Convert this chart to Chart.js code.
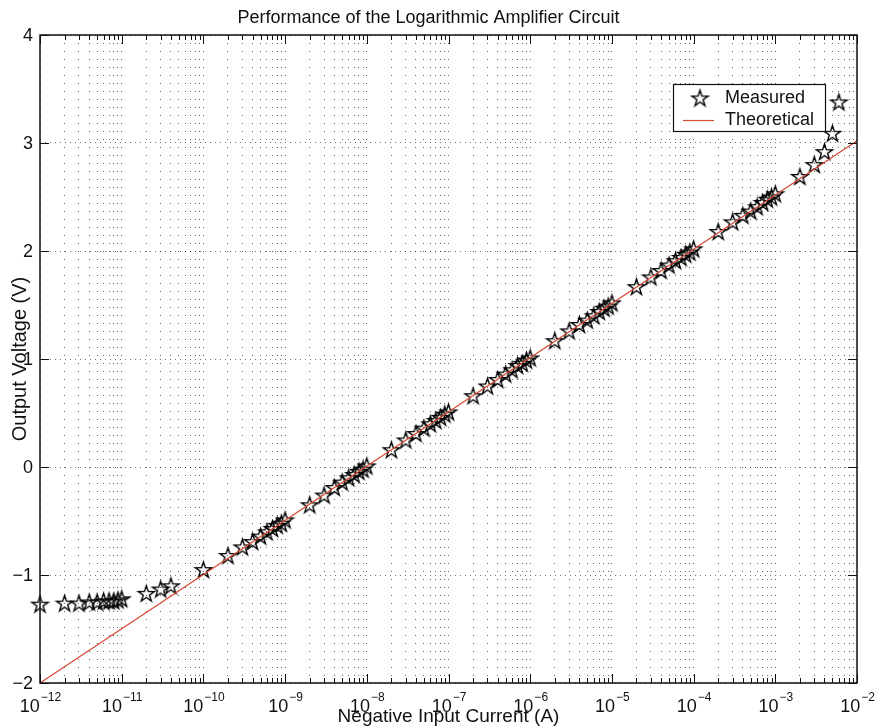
<!DOCTYPE html>
<html><head><meta charset="utf-8">
<script src="https://cdn.jsdelivr.net/npm/chart.js@4/dist/chart.umd.min.js"></script>
<style>html,body{margin:0;padding:0;background:#fff}</style>
</head><body>
<canvas id="c" width="875" height="728" style="display:block;width:875px;height:728px"></canvas>
<script>
// ---------- data ----------
const chartTitle = 'Performance of the Logarithmic Amplifier Circuit';
const xAxisTitle = 'Negative Input Current (A)';
const yAxisTitle = 'Output Voltage (V)';
const legendLabels = ['Measured', 'Theoretical'];

const measuredCurrent = [
  1e-12, 2e-12, 3e-12, 4e-12, 5e-12, 6e-12, 7e-12, 8e-12, 9e-12, 1e-11,
  2e-11, 3e-11, 4e-11,
  1e-10, 2e-10, 3e-10, 4e-10, 5e-10, 6e-10, 7e-10, 8e-10, 9e-10,
  1e-9, 2e-9, 3e-9, 4e-9, 5e-9, 6e-9, 7e-9, 8e-9, 9e-9,
  1e-8, 2e-8, 3e-8, 4e-8, 5e-8, 6e-8, 7e-8, 8e-8, 9e-8,
  1e-7, 2e-7, 3e-7, 4e-7, 5e-7, 6e-7, 7e-7, 8e-7, 9e-7,
  1e-6, 2e-6, 3e-6, 4e-6, 5e-6, 6e-6, 7e-6, 8e-6, 9e-6,
  1e-5, 2e-5, 3e-5, 4e-5, 5e-5, 6e-5, 7e-5, 8e-5, 9e-5,
  1e-4, 2e-4, 3e-4, 4e-4, 5e-4, 6e-4, 7e-4, 8e-4, 9e-4,
  1e-3, 2e-3, 3e-3, 4e-3, 5e-3, 6e-3
];
const measuredVoltage = [
  -1.27, -1.26, -1.26, -1.25, -1.25, -1.24, -1.24, -1.24, -1.23, -1.22,
  -1.17, -1.13, -1.10,
  -0.95, -0.82, -0.74, -0.69, -0.64, -0.60, -0.57, -0.54, -0.52,
  -0.49, -0.35, -0.26, -0.19, -0.14, -0.10, -0.07, -0.04, -0.02,
  0.01, 0.16, 0.25, 0.31, 0.36, 0.40, 0.43, 0.46, 0.49,
  0.51, 0.66, 0.75, 0.81, 0.86, 0.90, 0.94, 0.96, 0.99,
  1.01, 1.17, 1.26, 1.32, 1.36, 1.40, 1.44, 1.47, 1.49,
  1.52, 1.67, 1.76, 1.82, 1.87, 1.91, 1.94, 1.97, 1.99,
  2.02, 2.18, 2.27, 2.33, 2.37, 2.41, 2.45, 2.48, 2.50,
  2.53, 2.69, 2.80, 2.92, 3.09, 3.38
];
const theoreticalCurrent = [1e-12, 1e-2];
const theoreticalVoltage = [-2.0, 3.02];

const xTickExponents = [-12, -11, -10, -9, -8, -7, -6, -5, -4, -3, -2];
const yTickValues = [-2, -1, 0, 1, 2, 3, 4];
const yTickLabels = ['\u22122', '\u22121', '0', '1', '2', '3', '4'];

// ---------- helpers ----------
const FONT = 'Liberation Sans, Arial, Helvetica, sans-serif';
const minorMantissas = [1, 2, 3, 4, 5, 6, 7, 8, 9];
const xGridValues = [];
xTickExponents.forEach((e, i) => {
  if (i === xTickExponents.length - 1) { xGridValues.push(Math.pow(10, e)); return; }
  minorMantissas.forEach(m => xGridValues.push(m * Math.pow(10, e)));
});

function makeStar(R, lw) {
  const s = Math.ceil(2 * R + 4);
  const c = document.createElement('canvas');
  c.width = s; c.height = s;
  const g = c.getContext('2d');
  const cx = s / 2, cy = s / 2 + R * 0.09;
  g.beginPath();
  for (let i = 0; i < 10; i++) {
    const r = i % 2 ? R * 0.382 : R;
    const a = -Math.PI / 2 + i * Math.PI / 5;
    g.lineTo(cx + r * Math.cos(a), cy + r * Math.sin(a));
  }
  g.closePath();
  g.lineWidth = lw; g.strokeStyle = '#000'; g.lineJoin = 'miter';
  g.stroke();
  return c;
}
const starImg = makeStar(8.5, 1.4);
const LINE_RED = 'rgb(214,72,52)';

const overlay = {
  id: 'overlay',
  afterDraw(chart) {
    const ctx = chart.ctx;
    const a = chart.chartArea;
    const xs = chart.scales.x, ys = chart.scales.y;
    ctx.save();
    // frame
    ctx.strokeStyle = '#111'; ctx.lineWidth = 1.5;
    ctx.strokeRect(a.left, a.top, a.right - a.left, a.bottom - a.top);
    // x ticks (inside, top & bottom)
    ctx.lineWidth = 1;
    xGridValues.forEach(v => {
      const px = Math.round(xs.getPixelForValue(v)) + 0.5;
      const major = Math.abs(Math.log10(v) - Math.round(Math.log10(v))) < 1e-9;
      const len = major ? 9 : 5;
      ctx.beginPath();
      ctx.moveTo(px, a.bottom); ctx.lineTo(px, a.bottom - len);
      ctx.moveTo(px, a.top); ctx.lineTo(px, a.top + len);
      ctx.stroke();
    });
    // y ticks (inside, left & right)
    yTickValues.forEach(v => {
      const py = Math.round(ys.getPixelForValue(v)) + 0.5;
      ctx.beginPath();
      ctx.moveTo(a.left, py); ctx.lineTo(a.left + 9, py);
      ctx.moveTo(a.right, py); ctx.lineTo(a.right - 9, py);
      ctx.stroke();
    });
    // y tick labels
    ctx.fillStyle = '#111';
    ctx.font = '18px ' + FONT;
    ctx.textAlign = 'right'; ctx.textBaseline = 'middle';
    yTickValues.forEach((v, i) => {
      ctx.fillText(yTickLabels[i], a.left - 7, ys.getPixelForValue(v) + 1);
    });
    // x tick labels: 10^e
    ctx.textBaseline = 'alphabetic';
    xTickExponents.forEach(e => {
      const px = xs.getPixelForValue(Math.pow(10, e));
      const base = '10', sup = String(e).replace('-', '\u2212');
      ctx.font = '18px ' + FONT;
      const wb = ctx.measureText(base).width;
      ctx.font = '12px ' + FONT;
      const ws = ctx.measureText(sup).width;
      const x0 = px - (wb + ws) / 2;
      ctx.textAlign = 'left';
      ctx.font = '18px ' + FONT;
      ctx.fillText(base, x0, a.bottom + 29);
      ctx.font = '12px ' + FONT;
      ctx.fillText(sup, x0 + wb + 1, a.bottom + 18);
    });
    // legend
    const lx = 673, ly = 84, lw = 152, lh = 47;
    ctx.fillStyle = '#fff';
    ctx.fillRect(lx, ly, lw, lh);
    ctx.strokeStyle = '#111'; ctx.lineWidth = 1.2;
    ctx.strokeRect(lx + 0.5, ly + 0.5, lw, lh);
    ctx.drawImage(starImg, 700 - starImg.width / 2, 98 - starImg.height / 2);
    ctx.strokeStyle = LINE_RED; ctx.lineWidth = 1.2;
    ctx.beginPath(); ctx.moveTo(683, 120.5); ctx.lineTo(714, 120.5); ctx.stroke();
    ctx.fillStyle = '#111'; ctx.font = '18px ' + FONT;
    ctx.textAlign = 'left'; ctx.textBaseline = 'middle';
    ctx.fillText(legendLabels[0], 725, 98);
    ctx.fillText(legendLabels[1], 725, 120);
    ctx.restore();
  }
};

const measuredPoints = measuredCurrent.map((x, i) => ({ x, y: measuredVoltage[i] }));
const theoreticalPoints = theoreticalCurrent.map((x, i) => ({ x, y: theoreticalVoltage[i] }));

new Chart(document.getElementById('c'), {
  type: 'scatter',
  data: {
    datasets: [
      { label: legendLabels[1], data: theoreticalPoints, showLine: true, borderColor: LINE_RED,
        borderWidth: 1.2, pointRadius: 0, fill: false },
      { label: legendLabels[0], data: measuredPoints, pointStyle: starImg, pointRadius: 8,
        showLine: false, clip: false }
    ]
  },
  options: {
    responsive: false, animation: false, devicePixelRatio: 1,
    layout: { padding: { left: 0, right: 18, top: 0, bottom: 0 } },
    plugins: {
      legend: { display: false }, tooltip: { enabled: false },
      title: { display: true, text: chartTitle, color: '#111',
        font: { family: FONT, size: 18, weight: 'normal' }, padding: { top: 7, bottom: 6.4 } }
    },
    scales: {
      x: {
        type: 'logarithmic', min: 1e-12, max: 1e-2,
        afterBuildTicks: s => { s.ticks = xGridValues.map(v => ({ value: v })); },
        ticks: { display: false },
        grid: { color: 'rgba(0,0,0,0.6)', lineWidth: 1, drawTicks: false },
        border: { display: false, dash: [1, 7] },
        title: { display: true, text: xAxisTitle, color: '#111',
          font: { family: FONT, size: 19 }, padding: { top: 22.2, bottom: 0 } }
      },
      y: {
        min: -2, max: 4,
        ticks: { display: false, stepSize: 1 },
        grid: { color: 'rgba(0,0,0,0.55)', lineWidth: 1, drawTicks: false },
        border: { display: false, dash: [1, 4] },
        title: { display: true, text: yAxisTitle, color: '#111',
          font: { family: FONT, size: 20 }, padding: { top: 8, bottom: 8 } }
      }
    }
  },
  plugins: [overlay]
});
</script>
</body></html>
